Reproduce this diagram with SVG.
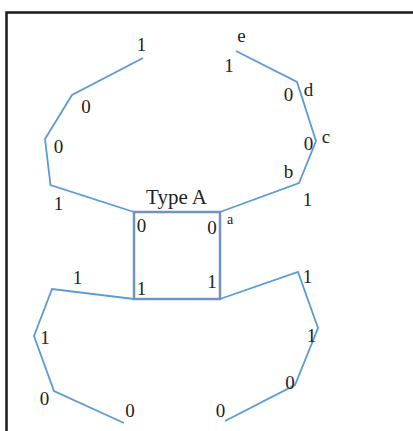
<svg xmlns="http://www.w3.org/2000/svg" width="413" height="431" viewBox="0 0 413 431">
<style>
.line{fill:none;stroke:#5b9bd5;stroke-width:1.8;stroke-linejoin:miter}
.box{fill:none;stroke:#6f93c0;stroke-width:2.5}
text{font-family:"Liberation Serif","Times New Roman",serif;fill:#222222;font-size:19px;text-anchor:middle}
.title{font-size:21px}
.small{font-size:14px}
</style>
<rect x="0" y="0" width="413" height="431" fill="#ffffff"/>
<rect x="6.5" y="12.5" width="420" height="430" fill="none" stroke="#1a1a1a" stroke-width="2.5"/>
<g id="connectors">
<polyline class="line" points="143,58 72,95 45,139 50.5,185 134,212"/>
<polyline class="line" points="236,51 297,82 316,141 299,183 220,212"/>
<polyline class="line" points="134,299 52,289 34,336 54,391 124,423"/>
<polyline class="line" points="220,299 298,272 318,328 295,385 225,421"/>
</g>
<g id="typeA">
<rect class="box" x="134" y="212" width="86" height="87"/>
<text class="title" x="176.5" y="204">Type A</text>
<text x="141.5" y="232">0</text>
<text x="212" y="234">0</text>
<text x="141.5" y="295">1</text>
<text x="212" y="288">1</text>
<text class="small" x="230" y="224">a</text>
</g>
<g id="upper-left">
<text x="141.5" y="51">1</text>
<text x="86" y="113">0</text>
<text x="58.5" y="153">0</text>
<text x="58.5" y="210">1</text>
</g>
<g id="upper-right">
<text x="241.5" y="42">e</text>
<text x="229" y="72">1</text>
<text x="288.5" y="101">0</text>
<text x="308.5" y="96">d</text>
<text x="308.5" y="150">0</text>
<text x="326" y="143">c</text>
<text x="288.5" y="178">b</text>
<text x="307.5" y="206">1</text>
</g>
<g id="lower-left">
<text x="77.5" y="284">1</text>
<text x="45" y="344">1</text>
<text x="44.5" y="405">0</text>
<text x="130" y="417">0</text>
</g>
<g id="lower-right">
<text x="307.5" y="283">1</text>
<text x="311.5" y="342">1</text>
<text x="290" y="389">0</text>
<text x="220.5" y="417">0</text>
</g>
</svg>
